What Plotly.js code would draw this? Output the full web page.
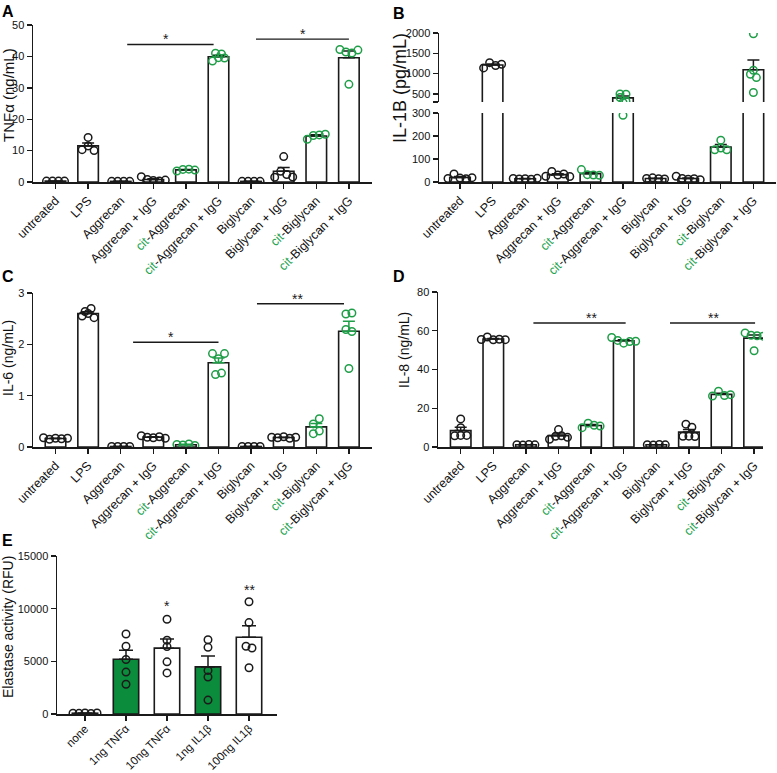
<!DOCTYPE html>
<html><head><meta charset="utf-8">
<script src="https://cdn.plot.ly/plotly-3.0.1.min.js"></script>
<style>body{margin:0;padding:0;background:#fff}#chart{width:777px;height:773px}</style>
</head><body><div id="chart"></div>
<script>
// ---------------- DATA ----------------
const categories = ['untreated','LPS','Aggrecan','Aggrecan + IgG','cit-Aggrecan','cit-Aggrecan + IgG','Biglycan','Biglycan + IgG','cit-Biglycan','cit-Biglycan + IgG'];
const elastaseCategories = ['none','1ng TNFα','10ng TNFα','1ng IL1β','100ng IL1β'];

// Panel A: TNFα (ng/mL), individual replicates per category
const tnfAlpha = [
  [0.3,0.3,0.3,0.3],
  [10.3,14.2,11.5,10.0],
  [0.2,0.2,0.2,0.2],
  [1.7,0.8,0.5,0.3,0.6],
  [3.5,4.0,4.1,3.8],
  [38.5,41.0,39.6,40.8,39.5],
  [0.2,0.2,0.2,0.2],
  [1.5,3.4,8.1,2.4,1.6],
  [13.6,14.8,15.0,15.2],
  [42.2,41.4,31.1,41.1,42.0]
];
// Panel B: IL-1B (pg/mL)
const il1b = [
  [15,35,17,14,19],
  [1140,1270,1200,1230],
  [15,13,14,12,16],
  [25,46,30,35,24],
  [54,32,30,29],
  [500,410,290,320,490],
  [15,18,14,13],
  [25,15,12,14,10],
  [140,182,148,140],
  [984,1980,533,1082,902]
];
// Panel C: IL-6 (ng/mL)
const il6 = [
  [0.18,0.15,0.17,0.16,0.17],
  [2.55,2.64,2.60,2.70,2.52],
  [0.01,0.01,0.01,0.01],
  [0.22,0.19,0.18,0.20,0.17],
  [0.05,0.04,0.06,0.03],
  [1.82,1.41,1.72,1.44,1.82],
  [0.01,0.01,0.01,0.01],
  [0.19,0.18,0.20,0.17,0.19],
  [0.45,0.26,0.55,0.31],
  [2.59,2.29,1.53,2.25,2.61]
];
// Panel D: IL-8 (ng/mL)
const il8 = [
  [5.8,10.0,14.5,6.0,6.0],
  [55.5,56.8,55.3,55.6,55.4],
  [1.2,1.0,1.3,1.1],
  [4.0,9.0,5.5,5.8,5.0],
  [10.0,12.3,11.2,10.8],
  [56.5,55.0,53.6,54.4,54.6],
  [1.2,1.0,1.3,1.1],
  [5.5,11.8,10.2,5.6,5.4],
  [26.3,28.8,26.6,27.0],
  [58.9,57.7,49.7,57.4,57.2]
];
// Panel E: Elastase activity (RFU)
const elastase = [
  [80,60,100,50,90],
  [2820,6430,7590,5170,3980],
  [9000,6400,7000,4950,3900],
  [7050,6330,4140,3510,1320],
  [10660,8680,6430,6270,4390]
];
const elastaseTicks = [0,5000,10000,15000];

// ---------------- STYLE / HELPERS ----------------
const W = 777, H = 773;
const FONT = 'Liberation Sans, Arial, sans-serif';
const INK = '#1a1a1a';
const GREEN_PT = '#1f9e48';
const GREEN_TXT = '#22a34e';
const GREEN_BAR = '#0b8b3c';

function stats(a){
  const n = a.length, m = a.reduce((s,v)=>s+v,0)/n;
  const sd = Math.sqrt(a.reduce((s,v)=>s+(v-m)*(v-m),0)/(n-1));
  return {mean:m, sem: sd/Math.sqrt(n)};
}
function swarm(vals, center, toPx, pxPerCat, step){
  const items = vals.map((v,i)=>({v,i,py:toPx(v)})).sort((a,b)=>a.py-b.py);
  const rows = []; let row = null;
  items.forEach(it=>{
    if(row && Math.abs(it.py-row[0].py) < 6){ row.push(it); }
    else { row=[it]; rows.push(row); }
  });
  const xs = new Array(vals.length);
  rows.forEach(r=>{
    r.sort((a,b)=>a.i-b.i);
    const k=r.length;
    r.forEach((it,j)=>{ xs[it.i] = center + (j-(k-1)/2)*step/pxPerCat; });
  });
  return xs;
}
const isCit = i => categories[i].startsWith('cit');
const ticktextMain = categories.map(c => c.replace(/^cit/, '<span style="color:'+GREEN_TXT+'">cit</span>'));

const traces = [];
function addPanel(cfg){
  const {xa, yas, groups, green, barFill, errColor, barWidth, capW, toPx, pxPerCat} = cfg;
  yas.forEach(ya=>{
    groups.forEach((g,i)=>{
      const st = stats(g);
      traces.push({type:'bar', x:[i], y:[st.mean], width:barWidth, xaxis:xa, yaxis:ya,
        marker:{color:barFill(i), line:{color:INK, width:1.6}},
        error_y:{type:'data', symmetric:false, array:[st.sem], arrayminus:[0], color:errColor(i), thickness:1.5, width:capW},
        hoverinfo:'skip', showlegend:false});
    });
    [false,true].forEach(gr=>{
      const xs=[], ys=[];
      groups.forEach((g,i)=>{
        if(green(i)!==gr) return;
        const sx = swarm(g, i, toPx, pxPerCat, 6);
        g.forEach((v,j)=>{ xs.push(sx[j]); ys.push(v); });
      });
      if(!xs.length) return;
      const col = gr ? GREEN_PT : INK;
      traces.push({type:'scatter', mode:'markers', x:xs, y:ys, xaxis:xa, yaxis:ya, cliponaxis:true,
        marker:{symbol:'circle-open', size:7.5, color:col, line:{color:col, width:1.5}},
        hoverinfo:'skip', showlegend:false});
    });
  });
}

// geometry (pixels)
const pxA = {x0:33, x1:372, y0:182, y1:25};
const pxB = {x0:439, x1:776, y0:182, yLowTop:113, yUpBot:102, y1:33};
const pxC = {x0:33, x1:372, y0:447, y1:293};
const pxD = {x0:438, x1:763, y0:447, y1:292};
const pxE = {x0:57, x1:277, y0:714, y1:556};
const dx = p => [p.x0/W, p.x1/W];
const dy = (b,t) => [1-b/H, 1-t/H];

const CAT_PX = 32.6, CAT_PX_E = 41;
const rangeA = [(33-55.5)/CAT_PX, (372-55.5)/CAT_PX];
const rangeB = [(439-460)/CAT_PX, (776-460)/CAT_PX];
const rangeD = [(438-460.7)/CAT_PX, (763-460.7)/CAT_PX];
const rangeE = [(57-85)/CAT_PX_E, (277-85)/CAT_PX_E];

const blackOrGreen = i => isCit(i);
addPanel({xa:'x', yas:['y'], groups:tnfAlpha, green:blackOrGreen, barFill:()=> 'white', errColor:()=>INK,
  barWidth:0.63, capW:6, toPx:v=>v*157/50, pxPerCat:CAT_PX});
addPanel({xa:'x2', yas:['y2','y3'], groups:il1b, green:blackOrGreen, barFill:()=> 'white', errColor:()=>INK,
  barWidth:0.63, capW:6, toPx:v=> v<=300 ? v*69/300 : 80+(v-300)*69/1700, pxPerCat:CAT_PX});
addPanel({xa:'x3', yas:['y4'], groups:il6, green:blackOrGreen, barFill:()=> 'white', errColor:i=> isCit(i)?GREEN_PT:INK,
  barWidth:0.63, capW:6, toPx:v=>v*154/3, pxPerCat:CAT_PX});
addPanel({xa:'x4', yas:['y5'], groups:il8, green:blackOrGreen, barFill:()=> 'white', errColor:()=>INK,
  barWidth:0.63, capW:6, toPx:v=>v*155/80, pxPerCat:CAT_PX});
addPanel({xa:'x5', yas:['y6'], groups:elastase, green:()=>false, barFill:i=> (elastaseCategories[i].startsWith('1ng') ? GREEN_BAR : 'white'), errColor:()=>INK,
  barWidth:0.62, capW:7, toPx:v=>v*158/15000, pxPerCat:CAT_PX_E});

function xAxis(domain, range, anchor, tickvals, ticktext, fs, standoff){
  return {domain, range, anchor, tickmode:'array', tickvals, ticktext, tickangle:-45,
    ticks:'outside', ticklen:5, tickwidth:1.4, tickcolor:INK, showline:true, linecolor:INK, linewidth:1.5,
    ticklabelstandoff: standoff || 0,
    showgrid:false, zeroline:false, automargin:false, fixedrange:true, tickfont:{family:FONT, size:fs, color:'#111'}};
}
function yAxis(domain, range, anchor, tickvals, ticktext){
  const a = {domain, range, anchor, tickmode:'array', tickvals,
    ticktext: ticktext || tickvals.map(String),
    ticks:'outside', ticklen:5, tickwidth:1.4, tickcolor:INK, showline:true, linecolor:INK, linewidth:1.5,
    showgrid:false, zeroline:false, automargin:false, fixedrange:true, tickfont:{family:FONT, size:11, color:'#111'}};
  return a;
}
const idx10 = categories.map((_,i)=>i);

function sigLine(xref, yref, x0, x1, y){
  return {type:'line', xref, yref, x0, x1, y0:y, y1:y, line:{color:INK, width:1.4}};
}
function star(xref, yref, x, y, text){
  return {xref, yref, x, y, text, showarrow:false, xanchor:'center', yanchor:'bottom', yshift:-5,
    font:{family:FONT, size:14, color:INK}};
}
function letter(t, px, py){
  return {xref:'paper', yref:'paper', x:px/W, y:1-py/H, text:'<b>'+t+'</b>', showarrow:false,
    xanchor:'left', yanchor:'top', font:{family:FONT, size:16, color:'#000'}};
}
function ytitle(t, px, py, fs){
  return {xref:'paper', yref:'paper', x:px/W, y:1-py/H, text:t, textangle:-90, showarrow:false,
    xanchor:'center', yanchor:'middle', font:{family:FONT, size:fs, color:'#111'}};
}

const layout = {
  width:W, height:H, margin:{l:0,r:0,t:0,b:0}, paper_bgcolor:'white', plot_bgcolor:'rgba(0,0,0,0)',
  showlegend:false, barmode:'overlay', font:{family:FONT, color:'#111'},
  xaxis: xAxis(dx(pxA), rangeA, 'y', idx10, ticktextMain, 12.5),
  yaxis: yAxis(dy(pxA.y0,pxA.y1), [0,50], 'x', [0,10,20,30,40,50]),
  xaxis2: xAxis(dx(pxB), rangeB, 'y2', idx10, ticktextMain, 12.5),
  yaxis2: yAxis(dy(pxB.y0,pxB.yLowTop), [0,300], 'x2', [0,100,200,300]),
  yaxis3: yAxis(dy(pxB.yUpBot,pxB.y1), [300,2000], 'x2', [300,500,1000,1500,2000], ['','500','1000','1500','2000']),
  xaxis3: xAxis(dx(pxC), rangeA, 'y4', idx10, ticktextMain, 12.5),
  yaxis4: yAxis(dy(pxC.y0,pxC.y1), [0,3], 'x3', [0,1,2,3]),
  xaxis4: xAxis(dx(pxD), rangeD, 'y5', idx10, ticktextMain, 12.5),
  yaxis5: yAxis(dy(pxD.y0,pxD.y1), [0,80], 'x4', [0,20,40,60,80]),
  xaxis5: xAxis(dx(pxE), rangeE, 'y6', [0,1,2,3,4], elastaseCategories, 11.5, -3),
  yaxis6: yAxis(dy(pxE.y0,pxE.y1), [0,15000], 'x5', elastaseTicks),
  shapes: [
    sigLine('x','y',2.2,4.85,43.8), sigLine('x','y',6.15,9.0,45.5),
    sigLine('x2','y3',6.19,9.0,2565), sigLine('x2','y3',6.98,9.1,2278),
    sigLine('x3','y4',2.38,5.0,2.04), sigLine('x3','y4',6.18,8.85,2.79),
    sigLine('x4','y5',2.23,5.06,64), sigLine('x4','y5',6.42,9.03,64)
  ],
  annotations: [
    star('x','y',3.38,43.8,'*'), star('x','y',7.59,45.5,'*'),
    star('x2','y3',7.55,2565,'*'), star('x2','y3',8.28,2278,'**'),
    star('x3','y4',3.53,2.04,'*'), star('x3','y4',7.41,2.79,'**'),
    star('x4','y5',4.0,64,'**'), star('x4','y5',7.75,64,'**'),
    star('x5','y6',2,9780,'*'), star('x5','y6',4,11330,'**'),
    letter('A',0,1), letter('B',391,3), letter('C',0,266), letter('D',391,266), letter('E',0,530),
    ytitle('TNFα (ng/mL)',9,95,15),
    ytitle('IL-1B (pg/mL)',400,88,18),
    ytitle('IL-6 (ng/mL)',8,358,14),
    ytitle('IL-8 (ng/mL)',404,350,14),
    ytitle('Elastase activity (RFU)',8,627,14)
  ]
};

Plotly.newPlot('chart', traces, layout, {staticPlot:true, displayModeBar:false});
</script>
</body></html>
